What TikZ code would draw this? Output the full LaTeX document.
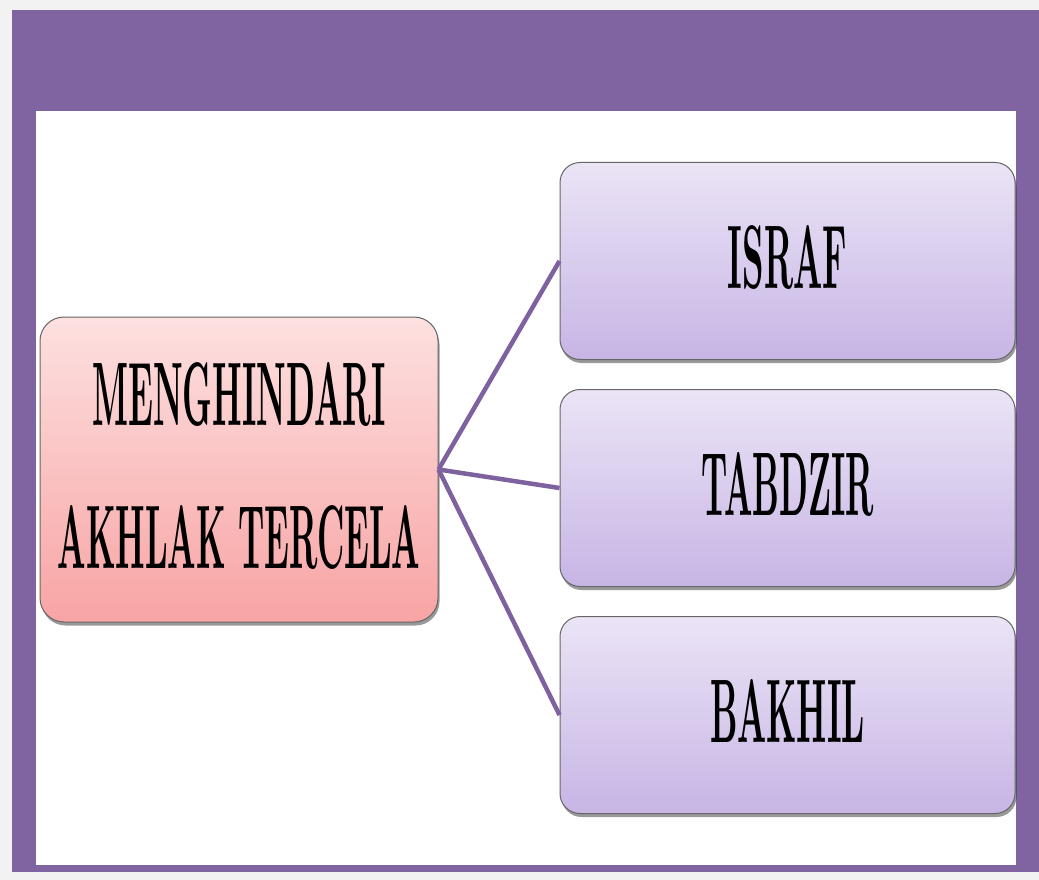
\documentclass[tikz,border=0pt]{standalone}
\usepackage{graphicx}
\usepackage{xcolor}
\usetikzlibrary{positioning,shapes,shadows,calc}
\definecolor{bggray}{RGB}{242,242,242}
\definecolor{framepurple}{RGB}{128,100,162}
\definecolor{linkpurple}{RGB}{126,98,160}
\definecolor{pinktop}{RGB}{253,224,224}
\definecolor{pinkbot}{RGB}{248,164,164}
\definecolor{lilactop}{RGB}{235,228,246}
\definecolor{lilacbot}{RGB}{199,181,229}
\newcommand{\bigword}[2]{\resizebox{#1pt}{63pt}{\bfseries #2}}

\begin{document}
\begin{tikzpicture}[x = 1pt, y = -1pt,
    card/.style = {draw = black!60, line width = 1pt, inner sep = 0pt,
      text depth = 9pt, align = center,
      drop shadow = {shadow xshift = 1.5pt, shadow yshift = -3.5pt, opacity = .4, fill = black}},
    mainbox/.style = {card, rounded corners = 24pt, top color = pinktop, bottom color = pinkbot,
      minimum width = 398pt, minimum height = 305pt},
    subbox/.style = {card, rounded corners = 20pt, top color = lilactop, bottom color = lilacbot,
      minimum width = 455pt, minimum height = 197pt},
    link/.style = {draw = linkpurple, line width = 4.5pt}]
    \useasboundingbox (0,0) rectangle (1039,880);
    \fill[bggray] (0,0) rectangle (1039,880);
    \fill[framepurple] (12,10) rectangle (1039,872);
    \fill[white] (36,111) rectangle (1016,865);

    \node[mainbox] (akhlak) at (239,469.5) {\bigword{293}{MENGHINDARI}\\[78pt]\bigword{363}{AKHLAK TERCELA}};
    \node[subbox] (israf) at (787.5,261) {\bigword{119}{ISRAF}};
    \node[subbox] (tabdzir) at (787.5,488) {\bigword{173}{TABDZIR}};
    \node[subbox] (bakhil) at (787.5,715) {\bigword{155}{BAKHIL}};

    \draw[link] (akhlak.east) -- (israf.west);
    \draw[link] (akhlak.east) -- (tabdzir.west);
    \draw[link] (akhlak.east) -- (bakhil.west);
\end{tikzpicture}
\end{document}
